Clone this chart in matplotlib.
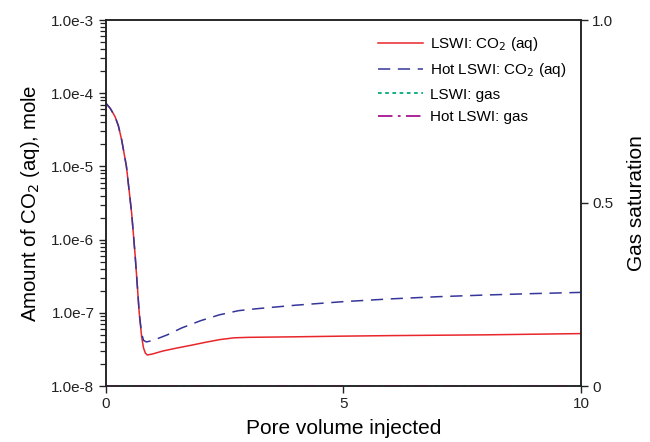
import matplotlib
matplotlib.use("Agg")
import matplotlib.pyplot as plt
import numpy as np
from matplotlib.ticker import FixedLocator, NullFormatter

plt.rcParams['font.family'] = ['Liberation Sans', 'DejaVu Sans']

# Data
pv_lswi = [0.0, 0.1, 0.2, 0.27, 0.34, 0.44, 0.55, 0.62, 0.67, 0.71, 0.76, 0.80, 0.84, 0.88,
           1.0, 1.2, 1.5, 1.8, 2.1, 2.4, 2.7, 3.0, 4.0, 5.0, 6.0, 8.0, 10.0]
co2_lswi = [7.4e-5, 6.2e-5, 4.8e-5, 3.6e-5, 2.3e-5, 1.0e-5, 2.3e-6, 6.5e-7, 2.3e-7, 9.8e-8, 4.7e-8, 3.3e-8, 2.8e-8, 2.65e-8,
            2.75e-8, 3.0e-8, 3.3e-8, 3.6e-8, 3.95e-8, 4.3e-8, 4.55e-8, 4.62e-8, 4.7e-8, 4.8e-8, 4.88e-8, 5.0e-8, 5.2e-8]

pv_hot = [0.0, 0.1, 0.2, 0.27, 0.34, 0.44, 0.55, 0.62, 0.67, 0.71, 0.76, 0.80, 0.86,
          1.0, 1.3, 1.6, 2.0, 2.4, 2.8, 3.2, 4.0, 5.0, 6.0, 7.0, 8.0, 9.0, 10.0]
co2_hot = [7.4e-5, 6.2e-5, 4.8e-5, 3.6e-5, 2.3e-5, 1.0e-5, 2.3e-6, 6.5e-7, 2.3e-7, 9.8e-8, 5.2e-8, 4.2e-8, 4.0e-8,
           4.2e-8, 5.0e-8, 6.2e-8, 7.8e-8, 9.4e-8, 1.07e-7, 1.14e-7, 1.27e-7, 1.42e-7, 1.55e-7, 1.66e-7, 1.75e-7, 1.83e-7, 1.9e-7]

pv_gas = [0.0, 10.0]
sg_lswi = [0.0, 0.0]
sg_hot = [0.0, 0.0]

decades = [1e-8, 1e-7, 1e-6, 1e-5, 1e-4, 1e-3]
decade_labels = ['1.0e-8', '1.0e-7', '1.0e-6', '1.0e-5', '1.0e-4', '1.0e-3']

fig = plt.figure(figsize=(6.5, 4.42), dpi=100)
ax = fig.add_axes([105.5/650, 1 - 386/442, (581 - 105.5)/650, (386 - 20)/442])
ax.set_yscale('log')
ax.set_ylim(decades[0], decades[-1])
ax.set_xlim(0, 10)
ax.yaxis.set_major_locator(FixedLocator(decades))
minor = [d * k for d in decades[:-1] for k in range(2, 10)]
ax.yaxis.set_minor_locator(FixedLocator(minor))
ax.yaxis.set_minor_formatter(NullFormatter())
ax.set_yticklabels(decade_labels)
ax.set_xticks([0, 5, 10])
ax.set_xticklabels(['0', '5', '10'])
ax.tick_params(axis='y', which='minor', direction='out', length=4, width=0.9, color='#222222', left=True)

ax2 = ax.twinx()

l1, = ax.plot(pv_lswi, co2_lswi, color='#e8262b', lw=1.1, label='LSWI: CO$_2$ (aq)')
l2, = ax.plot(pv_hot, co2_hot, color='#35359a', lw=1.1, ls=(0, (8, 5)), label='Hot LSWI: CO$_2$ (aq)')
l3, = ax2.plot(pv_gas, sg_lswi, color='#00a878', lw=1.3, ls=(0, (2, 2)), label='LSWI: gas')
l4, = ax2.plot(pv_gas, sg_hot, color='#a4148f', lw=1.3, ls=(0, (8, 3, 1.5, 3)), label='Hot LSWI: gas')

ax2.set_ylim(0, 1)
ax2.set_yticks([0, 0.5, 1.0])
ax2.set_yticklabels(['0', '0.5', '1.0'])

for a in (ax, ax2):
    a.tick_params(axis='both', which='major', direction='out', length=5, width=1, labelsize=11,
                  colors='#222222', pad=3)
    for s in a.spines.values():
        s.set_linewidth(1.1)
        s.set_color('#222222')

ax.set_xlabel('Pore volume injected', fontsize=15, labelpad=6)
ax.set_ylabel('Amount of CO$_2$ (aq), mole', fontsize=14.7, labelpad=7)
ax2.set_ylabel('Gas saturation', fontsize=15, labelpad=10)

ax2.legend(handles=[l1, l2, l3, l4], loc='upper left', frameon=False, fontsize=11,
           handlelength=2.9, handletextpad=0.45, labelspacing=0.55,
           bbox_to_anchor=(0.545, 0.997))

fig.savefig('out.png', dpi=100, facecolor='white')
